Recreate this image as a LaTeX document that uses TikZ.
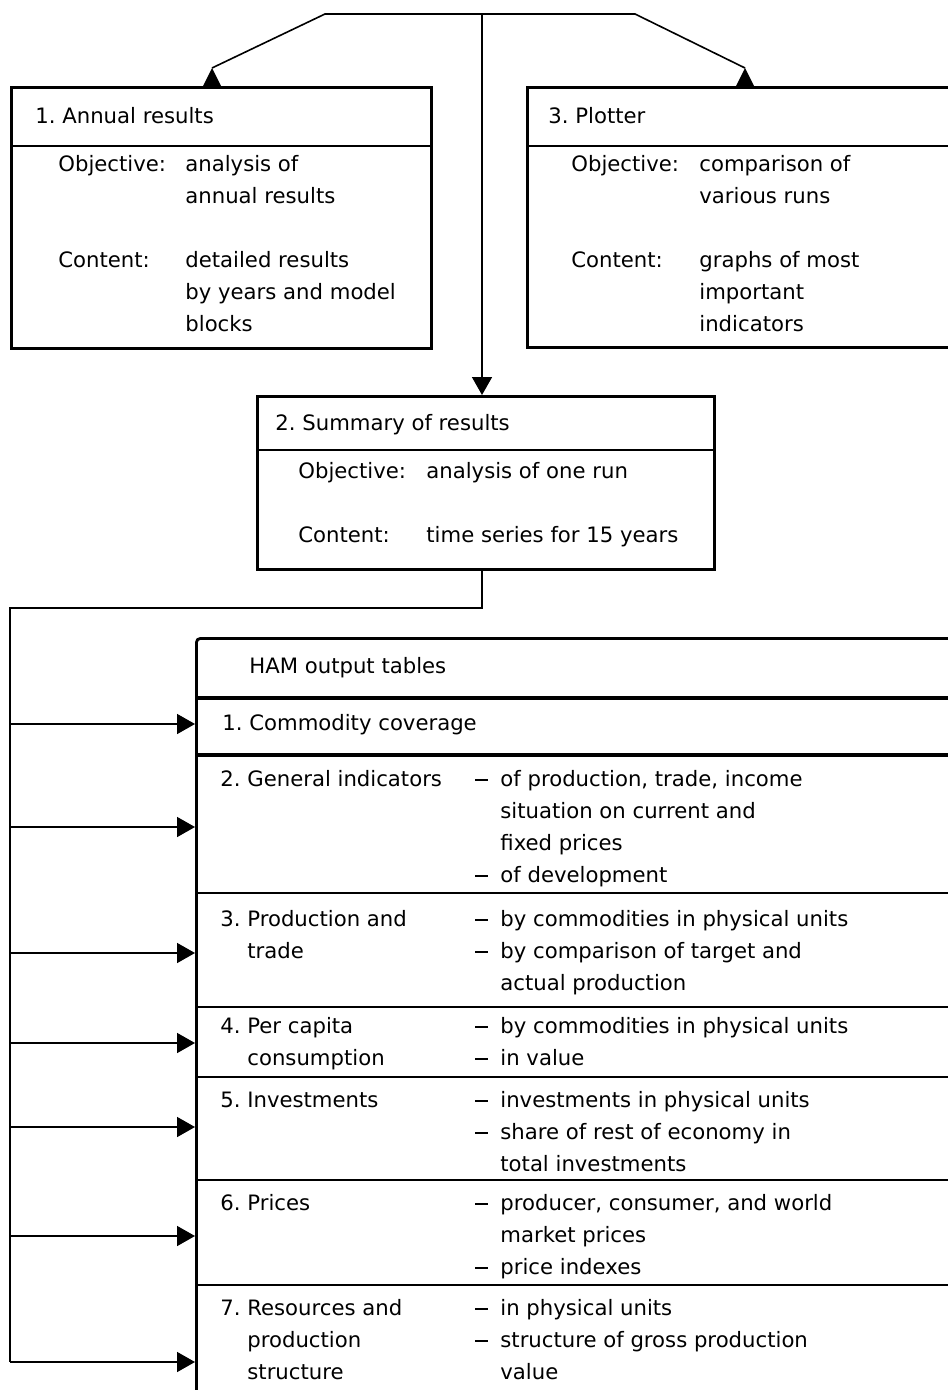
\documentclass[tikz,border=0pt]{standalone}
\usepackage{fontspec}
\setmainfont{DejaVu Sans}
\usetikzlibrary{arrows.meta}
\frenchspacing
\newcommand\hyitem{\makebox[12.5pt][l]{\rule[2.7pt]{6.5pt}{0.8pt}}}
\newcommand\hycont{\hspace*{12.5pt}}
\newcommand\tlines[1]{\begin{tabular}[t]{@{}l@{}}#1\end{tabular}}
\begin{document}
\begin{tikzpicture}[x=0.5pt,y=-0.5pt,
  conn/.style={line width=0.8pt},
  arr/.style={conn,-{Triangle[length=9pt,width=10pt]}},
  boxnode/.style={draw,line width=1.3pt,inner sep=0pt,anchor=north west},
  rule/.style={line width=1.2pt},
  thickrule/.style={line width=1.7pt},
  txt/.style={anchor=base west,inner sep=0pt,
    font=\fontsize{10.6}{16}\selectfont}]
\useasboundingbox (0,0) rectangle (947,1390);

% --- the three output boxes ---
\node[boxnode,minimum width=210pt,minimum height=130.5pt] (annual) at (10,86) {};
\draw[rule] (10,146) -- (430,146);
\node[boxnode,minimum width=217pt,minimum height=130pt] (plotter) at (526,86) {};
\draw[rule] (526,146) -- (960,146);
\node[boxnode,minimum width=228.5pt,minimum height=86.5pt] (summary) at (256,395) {};
\draw[rule] (256,450) -- (713,450);

% --- distribution lines from the top ---
\coordinate (hub) at (482,14);
\coordinate (hl) at (325,14);
\coordinate (hr) at (635,14);
\coordinate (tipA) at (212,68);
\coordinate (tipP) at (745,68);
\coordinate (tipS) at (482,395);
\draw[conn] (tipA) -- (hl) -- (hr) -- (tipP);
\draw[arr] (hub) -- (tipS);
\fill (tipA) -- (203,86) -- (221,86) -- cycle;
\fill (tipP) -- (736,86) -- (754,86) -- cycle;

% --- box texts ---
\node[txt] (a0) at (35,124) {1. Annual results};
\node[txt] (a1) at (58,172) {Objective:};
\node[txt] (a2) at (185,172) {\tlines{analysis of\\annual results}};
\node[txt] (a3) at (58,268) {Content:};
\node[txt] (a4) at (185,268) {\tlines{detailed results\\by years and model\\blocks}};

\node[txt] (p0) at (548,124) {3. Plotter};
\node[txt] (p1) at (571,172) {Objective:};
\node[txt] (p2) at (699,172) {\tlines{comparison of\\various runs}};
\node[txt] (p3) at (571,268) {Content:};
\node[txt] (p4) at (699,268) {\tlines{graphs of most\\important\\indicators}};

\node[txt] (s0) at (275,430) {2. Summary of results};
\node[txt] (s1) at (298,478) {Objective:};
\node[txt] (s2) at (426,478) {analysis of one run};
\node[txt] (s3) at (298,542) {Content:};
\node[txt] (s4) at (426,542) {time series for 15 years};

% --- output tables ---
\node[boxnode,line width=1.4pt,rounded corners=2pt,minimum width=382.5pt,
  minimum height=381.5pt] (ham) at (195,637) {};
\draw[thickrule] (195,698) -- (960,698);
\draw[thickrule] (195,755) -- (960,755);
\draw[rule] (195,893) -- (960,893);
\draw[rule] (195,1007) -- (960,1007);
\draw[rule] (195,1077) -- (960,1077);
\draw[rule] (195,1180) -- (960,1180);
\draw[rule] (195,1285) -- (960,1285);

\node[txt] (h0) at (249,673) {HAM output tables};
\node[txt] (h1) at (222,730) {1. Commodity coverage};

\node[txt] (g0) at (220,786) {2. General indicators};
\node[txt] (g1) at (475,786) {\tlines{\hyitem of production, trade, income\\\hycont situation on current and\\\hycont fixed prices\\\hyitem of development}};

\node[txt] (q0) at (220,926) {\tlines{3. Production and\\\hspace*{13.5pt}trade}};
\node[txt] (q1) at (475,926) {\tlines{\hyitem by commodities in physical units\\\hyitem by comparison of target and\\\hycont actual production}};

\node[txt] (c0) at (220,1033) {\tlines{4. Per capita\\\hspace*{13.5pt}consumption}};
\node[txt] (c1) at (475,1033) {\tlines{\hyitem by commodities in physical units\\\hyitem in value}};

\node[txt] (i0) at (220,1107) {5. Investments};
\node[txt] (i1) at (475,1107) {\tlines{\hyitem investments in physical units\\\hyitem share of rest of economy in\\\hycont total investments}};

\node[txt] (r0) at (220,1210) {6. Prices};
\node[txt] (r1) at (475,1210) {\tlines{\hyitem producer, consumer, and world\\\hycont market prices\\\hyitem price indexes}};

\node[txt] (e0) at (220,1315) {\tlines{7. Resources and\\\hspace*{13.5pt}production\\\hspace*{13.5pt}structure}};
\node[txt] (e1) at (475,1315) {\tlines{\hyitem in physical units\\\hyitem structure of gross production\\\hycont value}};

% --- feed from the summary into every table ---
\coordinate (sOut) at (482,568);
\coordinate (k0) at (482,608);
\coordinate (k1) at (10,608);
\foreach \n/\y in {1/724,2/827,3/953,4/1043,5/1127,6/1236,7/1362}{
  \coordinate (bus\n) at (10,\y);
  \coordinate (in\n) at (195,\y);
}
\draw[conn] (sOut) -- (k0) -- (k1) -- (bus7);
\foreach \n in {1,...,7}{
  \draw[arr] (bus\n) -- (in\n);
}
\end{tikzpicture}
\end{document}
